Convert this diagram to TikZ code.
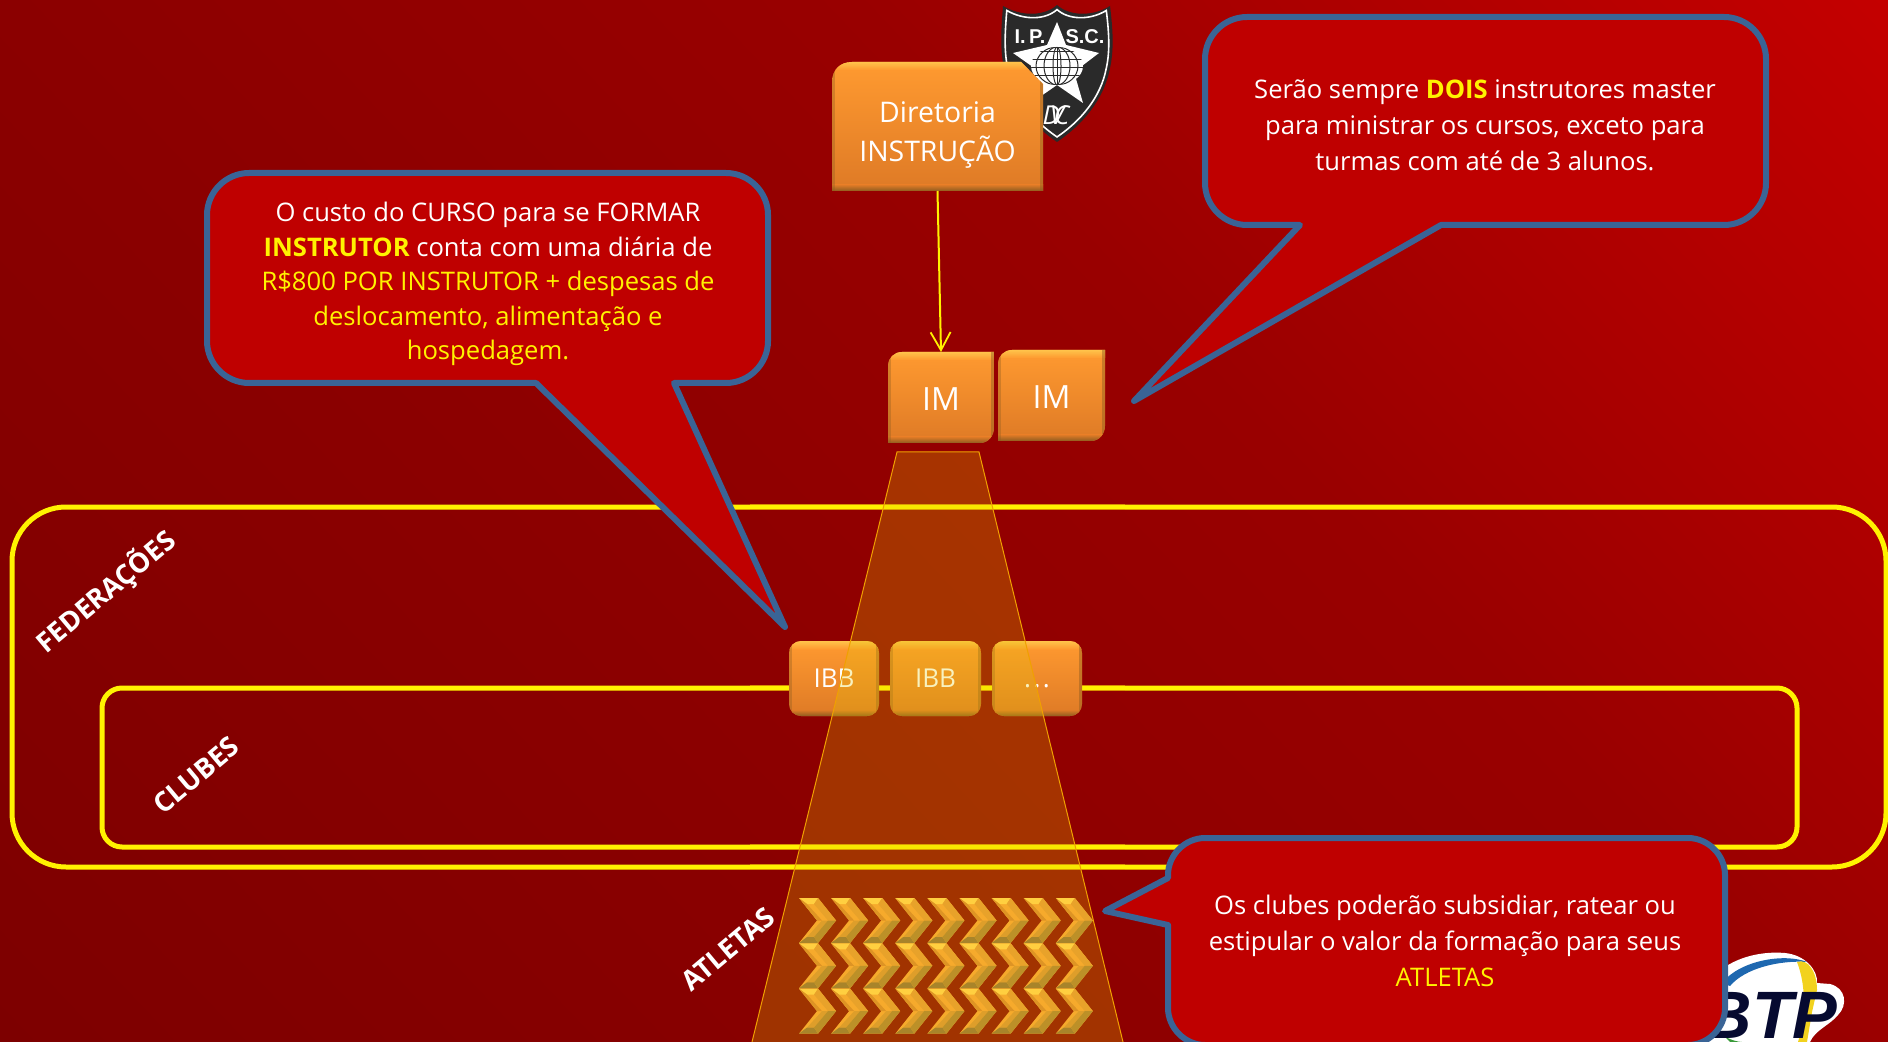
\documentclass[tikz,border=0pt]{standalone}
\usepackage{fontspec}
\setmainfont{Open Sans}
\newfontfamily\logofont{Liberation Sans}
\usetikzlibrary{arrows.meta}
\definecolor{calloutfill}{HTML}{BF0000}
\definecolor{calloutline}{HTML}{3A6496}
\definecolor{boxtop}{HTML}{FF9A30}
\definecolor{boxbot}{HTML}{DE7A26}
\definecolor{bevlight}{HTML}{FFC84E}
\definecolor{bevdark}{HTML}{8E5C20}
\definecolor{funnel}{RGB}{228,204,0}
\definecolor{funnelline}{HTML}{F0A000}
\definecolor{seam}{HTML}{D89000}
\definecolor{chevbase}{HTML}{F6AA2C}
\definecolor{chevlight}{HTML}{FFCF40}
\definecolor{chevleft}{HTML}{DE9424}
\definecolor{chevright}{HTML}{E8A22A}
\definecolor{chevmid}{HTML}{DE9E2A}
\definecolor{chevedge}{HTML}{A8842A}
\definecolor{chevlow}{HTML}{BC9028}
\definecolor{shielddark}{HTML}{2A2A2A}
\definecolor{btpnavy}{HTML}{060A30}
\definecolor{btpblue}{HTML}{1E68B0}
\definecolor{btpyellow}{HTML}{F2D21E}
\definecolor{btpgreen}{HTML}{3A9A3A}
\definecolor{bgp}{RGB}{125,0,0}
\definecolor{bgq}{RGB}{139,0,0}
\definecolor{bgr}{RGB}{153,0,0}
\definecolor{bgs}{RGB}{196,0,0}
\pgfdeclareverticalshading{bgshade}{100bp}{
  color(0bp)=(bgp); color(32.5bp)=(bgp); color(44.5bp)=(bgq); color(54.9bp)=(bgr); color(67.5bp)=(bgs); color(100bp)=(bgs)}
\tikzset{
  calloutshape/.style={draw=calloutline,fill=calloutfill,line width=3pt,line join=round},
  calloutlabel/.style={text=white,align=center,inner sep=0pt},
  frameline/.style={draw=yellow,line width=2.5pt},
  frameseam/.style={draw=seam,line width=3.3pt},
  frameseamcore/.style={draw=yellow,line width=2.3pt},
  boxlabel/.style={text=white,align=center,inner sep=0pt,outer sep=0pt},
  ibblabel/.style={boxlabel,minimum width=45pt,minimum height=37.5pt,text height=9.4pt,text depth=0pt,font=\fontsize{13}{16}\selectfont},
  roundedbox/.style={rounded corners=6pt},
  sidelabel/.style={text=white,rotate=40,inner sep=0pt,font=\fontsize{13.7}{16}\selectfont\bfseries},
  arrowline/.style={draw=yellow,line width=1pt,-{Straight Barb[length=9pt,width=10pt,line width=.9pt]}}
}
% bevelled orange box: #1 path, #2-#5 bounding box
\newcommand{\bevelbox}[5]{%
  \shade[top color=boxtop,bottom color=boxbot] #1;
  \begin{scope}
    \clip #1;
    \shade[top color=bevlight,bottom color=boxtop,opacity=.9] (#2,#3) rectangle (#4,{#3+8});
    \shade[top color=boxbot,bottom color=bevdark] (#2,{#5-6}) rectangle (#4,#5);
    \fill[bevdark,opacity=.35] (#2,#3) rectangle ({#2+3},#5);
    \fill[bevdark,opacity=.45] ({#4-3},#3) rectangle (#4,#5);
  \end{scope}}
\newcommand{\shieldpath}{(1003,6) .. controls (1022,17) and (1045,16) .. (1057,5) .. controls (1069,16) and (1092,17) .. (1110,6) .. controls (1113,30) and (1114,50) .. (1110,68) .. controls (1104,100) and (1082,125) .. (1057,142) .. controls (1032,125) and (1010,100) .. (1004,68) .. controls (1000,50) and (1001,30) .. (1003,6) -- cycle}
\begin{document}
\begin{tikzpicture}[x=0.5pt,y=-0.5pt]
\useasboundingbox (0,0) rectangle (1888,1042);
% background
\begin{scope}
  \clip (0,0) rectangle (1888,1042);
  \shade[shading=bgshade,shading angle=-46.6] (-556,-979) rectangle (2444,2021);
\end{scope}

% IPSC shield
\fill[shielddark] \shieldpath;
\begin{scope}[shift={(1057,70)},scale=.93,shift={(-1057,-70)}]
  \draw[white,line width=.8pt] \shieldpath;
\end{scope}
\fill[white] (1057,22) -- (1066,45) -- (1099,53) -- (1074,72) -- (1083,103) -- (1057,85) -- (1031,103) -- (1040,72) -- (1013,53) -- (1047,45) -- cycle;
\fill[white] (1057,66) ellipse (26 and 19);
\begin{scope}
  \clip (1057,66) ellipse (26 and 19);
  \foreach \gy in {52,60,68,76}{\draw[shielddark,line width=.5pt] (1030,\gy) -- (1084,\gy);}
  \draw[shielddark,line width=.5pt] (1057,66) ellipse (4 and 19);
  \draw[shielddark,line width=.5pt] (1057,66) ellipse (13 and 19);
  \draw[shielddark,line width=.5pt] (1057,66) ellipse (21 and 19);
  \draw[shielddark,line width=.5pt] (1057,47) -- (1057,85);
\end{scope}
\node[text=white,inner sep=0pt,font=\fontsize{10}{10}\selectfont\logofont\bfseries] (ipsca) at (1030,37) {I.\,P.};
\node[text=white,inner sep=0pt,font=\fontsize{10}{10}\selectfont\logofont\bfseries] (ipscb) at (1085,37) {S.C.};
\node[text=white,inner sep=0pt,font=\fontsize{13}{14}\selectfont\itshape] (ipscc) at (1056,115) {D\kern-5pt V\kern-5pt C};

% BTP logo
\fill[white] (1700,1042) -- (1700,1000) .. controls (1710,965) and (1750,950) .. (1785,953) .. controls (1805,955) and (1818,970) .. (1817,983) -- (1830,984) .. controls (1846,988) and (1848,1005) .. (1838,1015) .. controls (1830,1025) and (1815,1030) .. (1810,1042) -- cycle;
\fill[btpblue] (1722,983) .. controls (1740,960) and (1785,953) .. (1807,962) .. controls (1780,960) and (1745,968) .. (1730,986) -- cycle;
\fill[btpyellow] (1797,962) .. controls (1808,958) and (1817,972) .. (1817,990) -- (1812,1012) -- (1807,1042) -- (1798,1042) .. controls (1806,1015) and (1806,985) .. (1797,962) -- cycle;
\fill[btpgreen] (1724,1036) .. controls (1730,1040) and (1738,1042) .. (1742,1042) -- (1730,1042) -- cycle;
\node[anchor=base east,inner sep=0pt,text=btpnavy,font=\fontsize{33.5}{34}\selectfont\logofont\bfseries\itshape] (btp) at (1838,1038) {BTP};

% frames
\draw[frameline,rounded corners=27pt] (12,507) rectangle (1886,867);
\draw[frameline,rounded corners=10pt] (102,688) rectangle (1797,847);
\foreach \sy in {507,688,847,867}{
  \draw[frameseam] (750,\sy) -- (1125,\sy);
  \draw[frameseamcore] (750,\sy) -- (1125,\sy);
}

% IBB boxes (below the funnel)
\bevelbox{[roundedbox] (789,641) rectangle (879,716)}{789}{641}{879}{716}
\bevelbox{[roundedbox] (890,641) rectangle (981,716)}{890}{641}{981}{716}
\bevelbox{[roundedbox] (992,641) rectangle (1082,716)}{992}{641}{1082}{716}
\node[ibblabel] (ibba) at (834,678) {IBB};
\node[ibblabel] (ibbb) at (935.5,678) {IBB};
\node[ibblabel] (ibbc) at (1037,678) {.\kern1.2pt.\kern1.2pt.};

% funnel
\fill[funnel,opacity=.25] (897,452) -- (979,452) -- (1123,1042) -- (752,1042) -- cycle;
\draw[funnelline,line width=.5pt] (752,1042) -- (897,452) -- (979,452) -- (1123,1042);

% chevrons
\foreach \cx in {0,...,8}{
  \foreach \cy in {0,1,2}{
    \begin{scope}[shift={(799+32.1*\cx,898+45.3*\cy)}]
      \fill[chevbase] (0,0) -- (19,0) -- (37,22.5) -- (19,45) -- (0,45) -- (18,22.5) -- cycle;
      \fill[chevlight] (0,0) -- (19,0) -- (15,6) -- (8,6) -- cycle;
      \fill[chevleft] (0,0) -- (8,6) -- (23,22.5) -- (18,22.5) -- cycle;
      \fill[chevright] (19,0) -- (37,22.5) -- (29,22.5) -- (15,6) -- cycle;
      \fill[chevmid] (23,22.5) -- (29,22.5) -- (15,39) -- (8,39) -- cycle;
      \fill[chevedge] (0,45) -- (8,39) -- (15,39) -- (19,45) -- cycle;
      \fill[chevlow] (19,45) -- (15,39) -- (29,22.5) -- (37,22.5) -- cycle;
    \end{scope}
  }
}

% top boxes
\bevelbox{(832,191) -- (832,82) .. controls (832,70) and (840,62) .. (852,62) -- (1021,62) -- (1043,84) -- (1043,191) -- cycle}{832}{62}{1043}{191}
\node[inner sep=0pt,outer sep=0pt,minimum width=105.5pt,minimum height=64.5pt] (dir) at (937.5,126.5) {};
\node[boxlabel,font=\fontsize{14.2}{19.5}\selectfont] (dirtext) at (937.5,135) {Diretoria\\INSTRUÇÃO};
\bevelbox{(888,443) -- (888,366) .. controls (888,358) and (894,352) .. (902,352) -- (994,352) -- (994,428) .. controls (994,436) and (988,443) .. (980,443) -- cycle}{888}{352}{994}{443}
\node[boxlabel,minimum width=53pt,minimum height=47pt,font=\fontsize{16}{20}\selectfont] (ima) at (941,399) {IM};
\bevelbox{(998,441) -- (998,364) .. controls (998,356) and (1004,350) .. (1012,350) -- (1105,350) -- (1105,426) .. controls (1105,434) and (1099,441) .. (1091,441) -- cycle}{998}{350}{1105}{441}
\node[boxlabel,minimum width=53.5pt,minimum height=47pt,font=\fontsize{16}{20}\selectfont] (imb) at (1051.5,397) {IM};
\draw[arrowline] (dir.south) -- (ima.north);

% callouts
\draw[calloutshape] (249,173) -- (726,173) .. controls (749,173) and (768,192) .. (768,215) -- (768,341) .. controls (768,364) and (749,383) .. (726,383) -- (674,383) -- (785,627) -- (536,383) -- (249,383) .. controls (226,383) and (207,364) .. (207,341) -- (207,215) .. controls (207,192) and (226,173) .. (249,173) -- cycle;
\node[calloutlabel,font=\fontsize{12.8}{17.3}\selectfont] (costtext) at (488,284) {O custo do CURSO para se FORMAR\\\textcolor{yellow}{\textbf{INSTRUTOR}} conta com uma diária de\\\textcolor{yellow}{R\$800 POR INSTRUTOR + despesas de}\\\textcolor{yellow}{deslocamento, alimentação e}\\\textcolor{yellow}{hospedagem.}};
\draw[calloutshape] (1247,17) -- (1724,17) .. controls (1747,17) and (1766,36) .. (1766,59) -- (1766,183) .. controls (1766,206) and (1747,225) .. (1724,225) -- (1441,225) -- (1134,401) -- (1300,225) -- (1247,225) .. controls (1224,225) and (1205,206) .. (1205,183) -- (1205,59) .. controls (1205,36) and (1224,17) .. (1247,17) -- cycle;
\node[calloutlabel,font=\fontsize{12.8}{18}\selectfont] (twotext) at (1485,125) {Serão sempre \textcolor{yellow}{\textbf{DOIS}} instrutores master\\para ministrar os cursos, exceto para\\turmas com até de 3 alunos.};
\draw[calloutshape] (1205,838) -- (1688,838) .. controls (1708,838) and (1725,855) .. (1725,875) -- (1725,1008) .. controls (1725,1028) and (1708,1045) .. (1688,1045) -- (1205,1045) .. controls (1185,1045) and (1168,1028) .. (1168,1008) -- (1168,925) -- (1105,911) -- (1168,878) -- (1168,875) .. controls (1168,855) and (1185,838) .. (1205,838) -- cycle;
\node[calloutlabel,font=\fontsize{12.8}{18}\selectfont] (clubtext) at (1445,941) {Os clubes poderão subsidiar, ratear ou\\estipular o valor da formação para seus\\\textcolor{yellow}{ATLETAS}};

% side labels
\node[sidelabel] (fed) at (106,592) {FEDERAÇÕES};
\node[sidelabel] (clu) at (196,775) {CLUBES};
\node[sidelabel] (atl) at (728,949) {ATLETAS};
\end{tikzpicture}
\end{document}
